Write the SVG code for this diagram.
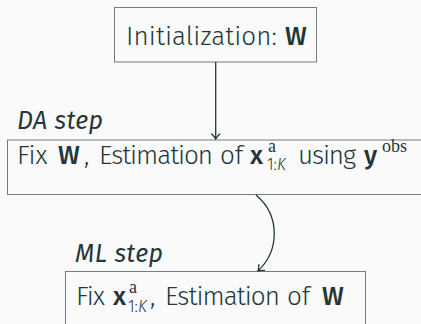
<svg xmlns="http://www.w3.org/2000/svg" width="421" height="324" viewBox="0 0 421 324">
  <style>
    .box { fill: #fafafa; stroke: #6f7f81; stroke-width: 1; }
    .t { font-family: "Fira Sans", "Open Sans", "Noto Sans", sans-serif; font-weight: 300; font-size: 26px; fill: #23373b; }
    .b { font-weight: 500; }
    .it { font-style: italic; }
    .rm { font-family: "Liberation Serif", "DejaVu Serif", serif; font-weight: 400; font-size: 18px; }
    .sub { font-size: 16px; }
    .lbl { font-family: "Fira Sans", "Open Sans", "Noto Sans", sans-serif; font-style: italic; font-size: 25px; fill: #23373b; }
    .edge { fill: none; stroke: #23373b; stroke-width: 1.3; }
  </style>
  <defs>
    <marker id="tip" viewBox="-6 -5 8 10" markerWidth="8" markerHeight="10" refX="0" refY="0" orient="auto" markerUnits="userSpaceOnUse">
      <path d="M -5 -4 Q -2 -1 0 0 Q -2 1 -5 4" fill="none" stroke="#23373b" stroke-width="1.3" stroke-linecap="round"/>
    </marker>
  </defs>
  <rect width="421" height="324" fill="#fafafa"/>

  <g id="init">
    <rect class="box" x="114.5" y="7.5" width="202" height="54.5"/>
    <text class="t" y="45"><tspan x="126" textLength="151">Initialization:</tspan><tspan x="285" class="b">W</tspan></text>
  </g>

  <g id="da-step">
    <text class="lbl" x="17" y="129" textLength="86">DA step</text>
    <rect class="box" x="7.5" y="140" width="420" height="54.5"/>
    <text class="t" y="163.5"><tspan x="17">Fix</tspan><tspan x="58" class="b">W</tspan><tspan x="84">,</tspan><tspan x="99" textLength="114">Estimation</tspan><tspan x="220" textLength="23">of</tspan><tspan x="250" class="b">x</tspan><tspan x="298" textLength="58">using</tspan><tspan x="364" class="b">y</tspan></text>
    <text class="t rm" x="268" y="151.5">a</text>
    <text class="t sub" x="267" y="170">1:<tspan class="it">K</tspan></text>
    <text class="t rm" x="382" y="152">obs</text>
  </g>

  <g id="ml-step">
    <text class="lbl" x="75" y="262" textLength="88">ML step</text>
    <rect class="box" x="65.5" y="271.5" width="300" height="60"/>
    <text class="t" y="305"><tspan x="76" textLength="29">Fix</tspan><tspan x="113" class="b">x</tspan><tspan x="150">,</tspan><tspan x="165" textLength="115">Estimation</tspan><tspan x="287" textLength="23">of</tspan><tspan x="322" class="b">W</tspan></text>
    <text class="t rm" x="129" y="293">a</text>
    <text class="t sub" x="128" y="311.5">1:<tspan class="it">K</tspan></text>
  </g>

  <g id="connectors">
    <path class="edge" d="M 215.7 62 L 215.7 139" marker-end="url(#tip)"/>
    <path class="edge" d="M 256 195 C 280 215 280 250 258 271" marker-end="url(#tip)"/>
  </g>
</svg>
